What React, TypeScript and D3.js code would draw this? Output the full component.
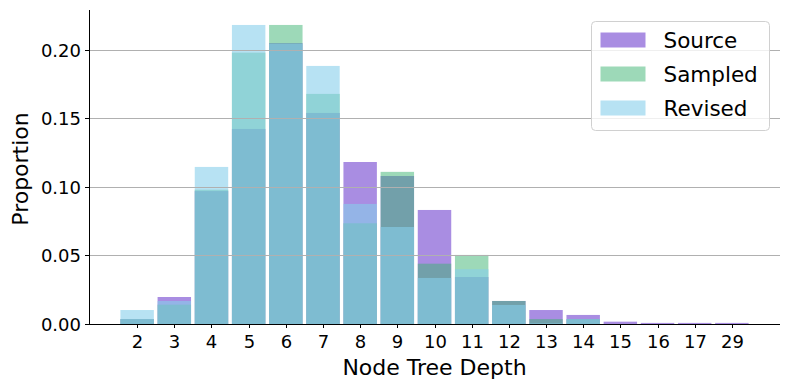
import React from 'react';
import * as d3 from 'd3';

const DEPTHS = ['2', '3', '4', '5', '6', '7', '8', '9', '10', '11', '12', '13', '14', '15', '16', '17', '29'];
const SOURCE = [0.0036, 0.0197, 0.097, 0.1423, 0.2050, 0.154, 0.1182, 0.108, 0.0832, 0.0343, 0.0168, 0.0102, 0.0066, 0.0017, 0.0008, 0.0008, 0.0008];
const SAMPLED = [0.0036, 0.0141, 0.098, 0.198, 0.2182, 0.1679, 0.0735, 0.111, 0.044, 0.0504, 0.0168, 0.0036, 0.0036, 0, 0, 0, 0];
const REVISED = [0.0102, 0.0168, 0.1146, 0.2182, 0.2046, 0.1883, 0.0876, 0.0708, 0.0336, 0.040, 0.0139, 0.0005, 0.0036, 0, 0, 0, 0];
const Y_TICKS = [0, 0.05, 0.1, 0.15, 0.2];

const SERIES = [
  { name: 'Source', values: SOURCE, color: '#9370DB', alpha: 0.8 },
  { name: 'Sampled', values: SAMPLED, color: '#3CB371', alpha: 0.5 },
  { name: 'Revised', values: REVISED, color: '#87CEEB', alpha: 0.6 },
];

const W = 790;
const H = 390;
const LEFT = 89;
const RIGHT = 780;
const TOP = 10;
const BOTTOM = 324;
const BAR_W = 0.9;
const FONT = 'DejaVu Sans, sans-serif';

export default function App() {
  const n = DEPTHS.length;
  const pad = (n - 1 + BAR_W) * 0.05;
  const x = d3.scaleLinear()
    .domain([-BAR_W / 2 - pad, n - 1 + BAR_W / 2 + pad])
    .range([LEFT, RIGHT]);
  const yMax = d3.max(SERIES.flatMap(s => s.values)) as number * 1.05;
  const y = d3.scaleLinear().domain([0, yMax]).range([BOTTOM, TOP]);
  const bw = x(BAR_W) - x(0);

  return (
    <svg width={W} height={H} style={{ position: 'absolute', left: 0, top: 0, background: '#fff' }}
      fontFamily={FONT}>
      {/* bars */}
      {SERIES.map(s => (
        <g key={s.name} fill={s.color} fillOpacity={s.alpha}>
          {s.values.map((v, i) => (
            <rect key={i} x={x(i) - bw / 2} y={y(v)} width={bw} height={BOTTOM - y(v)} />
          ))}
        </g>
      ))}

      {/* grid on top of the bars, like matplotlib */}
      {Y_TICKS.slice(1).map(t => (
        <line key={t} x1={LEFT} x2={RIGHT} y1={Math.round(y(t)) + 0.5} y2={Math.round(y(t)) + 0.5}
          stroke="#b0b0b0" strokeWidth={1} />
      ))}

      {/* spines */}
      <line x1={LEFT + 0.5} x2={LEFT + 0.5} y1={TOP} y2={BOTTOM + 1} stroke="#000" />
      <line x1={LEFT} x2={RIGHT} y1={BOTTOM + 0.5} y2={BOTTOM + 0.5} stroke="#000" />

      {/* y ticks */}
      {Y_TICKS.map(t => (
        <g key={t} transform={`translate(0,${Math.round(y(t)) + 0.5})`}>
          <line x1={LEFT - 4} x2={LEFT} stroke="#000" />
          <text x={LEFT - 8} dy="0.35em" textAnchor="end" fontSize={18}>{t.toFixed(2)}</text>
        </g>
      ))}

      {/* x ticks */}
      {DEPTHS.map((d, i) => (
        <g key={d} transform={`translate(${Math.round(x(i)) + 0.5},${BOTTOM})`}>
          <line y1={0} y2={4} stroke="#000" />
          <text y={23.5} textAnchor="middle" fontSize={18}>{d}</text>
        </g>
      ))}

      <text x={(LEFT + RIGHT) / 2} y={375} textAnchor="middle" fontSize={22}>Node Tree Depth</text>
      <text transform={`translate(28,${(TOP + BOTTOM) / 2 + 2}) rotate(-90)`} textAnchor="middle" fontSize={22}>Proportion</text>

      {/* legend */}
      <g transform="translate(591.5,21.5)">
        <rect width={178} height={109} rx={4} fill="#fff" fillOpacity={0.8} stroke="#d0d0d0" />
        {SERIES.map((s, i) => (
          <g key={s.name} transform={`translate(0,${18.5 + i * 34})`}>
            <rect x={9} y={-7.5} width={45} height={15} fill={s.color} fillOpacity={s.alpha} />
            <text x={72} dy="0.36em" fontSize={21.5}>{s.name}</text>
          </g>
        ))}
      </g>
    </svg>
  );
}
